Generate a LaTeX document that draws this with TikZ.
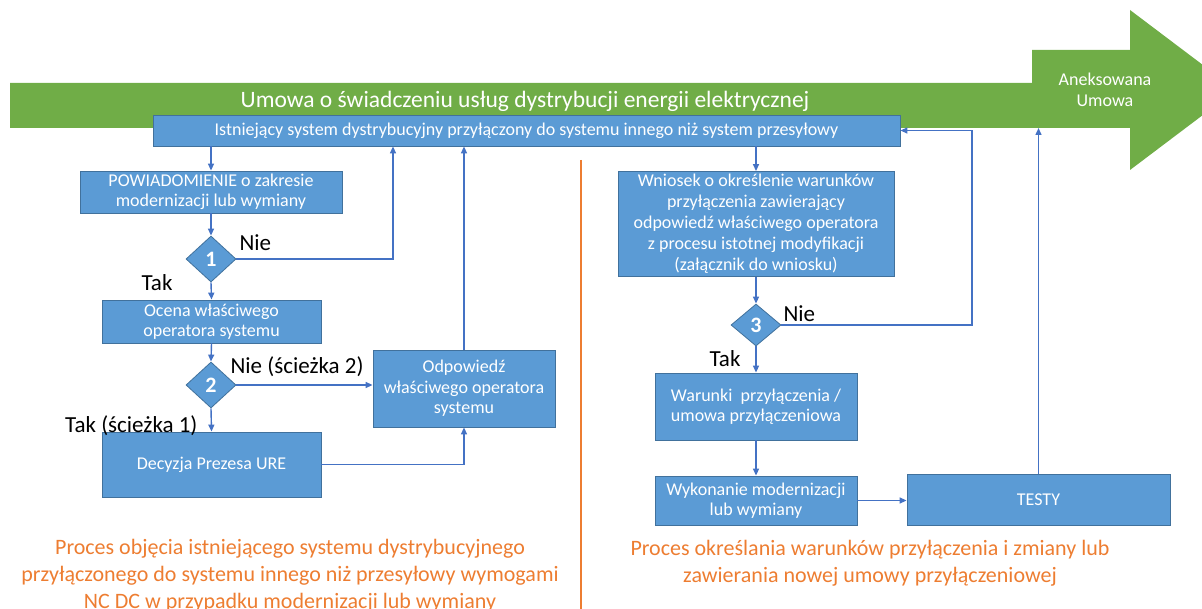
\documentclass[tikz,border=0pt]{standalone}
\usepackage{fontspec}
\setmainfont{Carlito}
\usetikzlibrary{shapes.geometric,arrows.meta}
\definecolor{umgreen}{HTML}{70AD47}
\definecolor{boxblue}{HTML}{5B9BD5}
\definecolor{boxedge}{HTML}{41719C}
\definecolor{linkblue}{HTML}{4472C4}
\definecolor{procorange}{HTML}{ED7D31}

\begin{document}
\begin{tikzpicture}[x=1pt,y=-1pt,
	blok/.style={draw=boxedge,fill=boxblue,line width=0.8pt,text=white,align=center,inner sep=0pt,font=\fontsize{18}{20.5}\selectfont},
	romb/.style={diamond,draw=boxedge,fill=boxblue,line width=0.8pt,minimum width=50pt,minimum height=46pt,inner sep=0pt,text=white,font=\fontsize{22}{22}\selectfont\bfseries},
	link/.style={draw=linkblue,line width=1.4pt,-{Triangle[length=7pt,width=6pt]}},
	odp/.style={font=\fontsize{23}{23}\selectfont},
	opis/.style={text=procorange,align=center,font=\fontsize{22}{27}\selectfont}]
			\useasboundingbox (0,0) rectangle (1202,609);
			\clip (0,0) rectangle (1202,609);
			% umowa
			\fill[umgreen] (10,83) -- (1032,83) -- (1032,50) -- (1130,50) -- (1130,10) -- (1236,90) -- (1130,170) -- (1130,128) -- (10,128) -- cycle;
			\coordinate (bar) at (0,128);
			\node[text=white,font=\fontsize{23.5}{23.5}\selectfont] (umowa) at (525,101) {Umowa o świadczeniu usług dystrybucji energii elektrycznej};
			\node[text=white,align=center,font=\fontsize{18}{21}\selectfont] (aneks) at (1105,90) {Aneksowana\\Umowa};
			\node[blok,minimum width=747pt,minimum height=31pt] (sys) at (526.5,130.5) {Istniejący system dystrybucyjny przyłączony do systemu innego niż system przesyłowy};
			% lewa strona
			\node[blok,minimum width=262pt,minimum height=42pt] (pow) at (211,192) {POWIADOMIENIE o zakresie\\modernizacji lub wymiany};
			\node[romb] (d1) at (211,259) {1};
			\node[blok,minimum width=219pt,minimum height=43pt] (ocena) at (211.5,321.5) {Ocena właściwego\\operatora systemu};
			\node[romb] (d2) at (211,385) {2};
			\node[blok,minimum width=182pt,minimum height=77pt] (odpow) at (464,388.5) {Odpowiedź\\właściwego operatora\\systemu};
			\node[blok,minimum width=219pt,minimum height=65pt] (urz) at (211.5,464.5) {Decyzja Prezesa URE};
			\coordinate (k1) at (393,259);
			\draw[link] (sys.south -| pow.north) -- (pow.north);
			\draw[link] (pow.south) -- (d1.north);
			\draw[link] (d1.east) -- (k1) -- (k1 |- sys.south);
			\draw[link] (d1.south) -- (ocena.north);
			\draw[link] (ocena.south) -- (d2.north);
			\draw[link] (d2.east) -- (d2.east -| odpow.west);
			\draw[link] (d2.south) -- (urz.north);
			\draw[link] (urz.east) -| (odpow.south);
			\draw[link] (odpow.north) -- (odpow.north |- sys.south);
			\node[odp,anchor=west] at (236,243) {Nie};
			\node[odp,anchor=east] at (176,283) {Tak};
			\node[odp,anchor=west] at (227,367) {Nie (ścieżka 2)};
			\node[odp,anchor=east] at (201,426) {Tak (ścieżka 1)};
			% podzial
			\draw[procorange,line width=1.4pt] (581,160) -- (581,609);
			% prawa strona
			\node[blok,minimum width=276pt,minimum height=105pt,font=\fontsize{18}{21}\selectfont] (wniosek) at (756,224) {Wniosek o określenie warunków\\przyłączenia zawierający\\odpowiedź właściwego operatora\\z procesu istotnej modyfikacji\\(załącznik do wniosku)};
			\node[romb,minimum height=42pt] (d3) at (756,325) {3};
			\node[blok,minimum width=202pt,minimum height=67pt] (warunki) at (756,406.5) {Warunki~ przyłączenia /\\umowa przyłączeniowa};
			\node[blok,minimum width=202pt,minimum height=49pt] (wyk) at (756,500.5) {Wykonanie modernizacji\\lub wymiany};
			\node[blok,minimum width=263pt,minimum height=51pt] (testy) at (1038.5,499.5) {TESTY};
			\coordinate (k3) at (972,325);
			\draw[link] (sys.south -| wniosek.north) -- (wniosek.north);
			\draw[link] (wniosek.south) -- (d3.north);
			\draw[link] (d3.east) -- (k3) -- (k3 |- sys.east) -- (sys.east);
			\draw[link] (d3.south) -- (warunki.north);
			\draw[link] (warunki.south) -- (wyk.north);
			\draw[link] (wyk.east) -- (testy.west |- wyk.east);
			\draw[link] (testy.north) -- (testy.north |- bar);
			\node[odp,anchor=west] at (780,314) {Nie};
			\node[odp,anchor=east] at (744,359) {Tak};
			% opisy procesow
			\node[opis] (opisL) at (290,576) {Proces objęcia istniejącego systemu dystrybucyjnego\\przyłączonego do systemu innego niż przesyłowy wymogami\\NC DC w przypadku modernizacji lub wymiany};
			\node[opis] (opisP) at (870,563) {Proces określania warunków przyłączenia i zmiany lub\\zawierania nowej umowy przyłączeniowej};
		\end{tikzpicture}
\end{document}
